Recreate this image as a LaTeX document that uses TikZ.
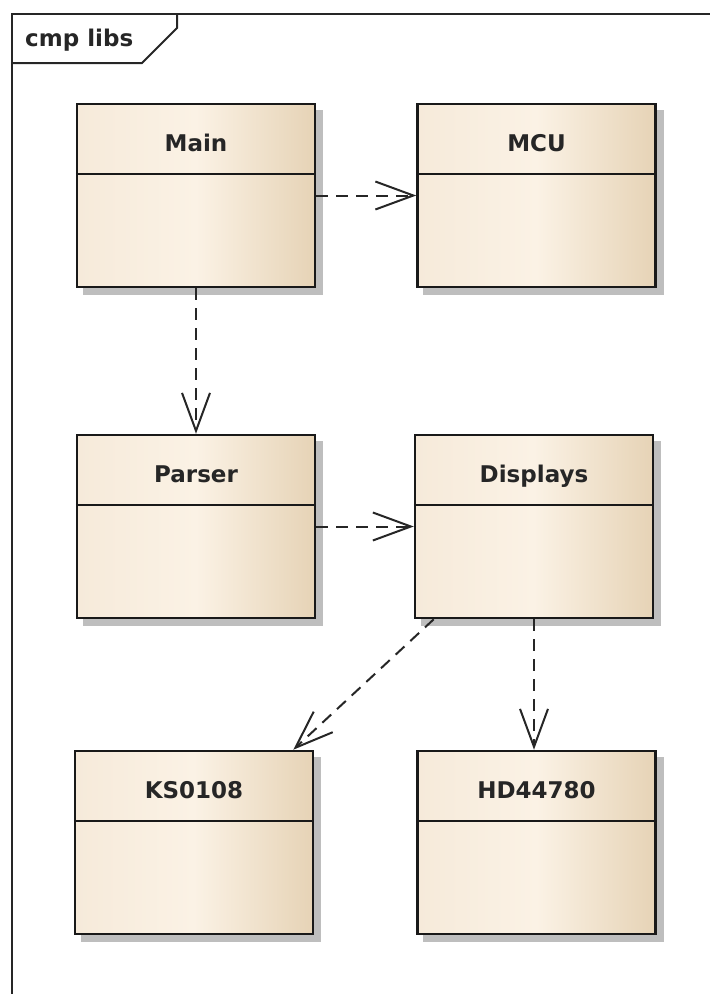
\documentclass[tikz,border=0pt]{standalone}
\usepackage{fontspec}
\setmainfont{DejaVu Sans}
\usetikzlibrary{arrows.meta,backgrounds}

\definecolor{clsleft}{HTML}{F6EADA}
\definecolor{clsmid}{HTML}{FBF2E5}
\definecolor{clsright}{HTML}{E6D3B6}
\definecolor{clsshadow}{HTML}{BEBEBE}

\tikzset{
  cls/.style={draw=black!90, line width=2.5pt, minimum width=238pt, minimum height=183pt,
    inner sep=0pt, left color=clsleft, right color=clsright, middle color=clsmid},
  clsname/.style={anchor=base, inner sep=0pt, text=black!85,
    font=\fontsize{23}{28}\selectfont\bfseries},
  dep/.style={draw=black!85, line width=2pt, dash pattern=on 12pt off 8pt,
    -{Straight Barb[length=38pt, width=28pt, line width=2pt]}},
}

\begin{document}
\begin{tikzpicture}[x=1pt, y=-1pt]
  \useasboundingbox (0,0) rectangle (710,994);
  \clip (0,0) rectangle (710,994);

  % frame
  \draw[line width=2pt, black!85] (12,994) -- (12,14) -- (710,14);
  \draw[line width=2pt, black!85] (12,63) -- (142,63) -- (177,28) -- (177,14);
  \node[anchor=base west, inner sep=0pt, text=black!85,
    font=\fontsize{23}{28}\selectfont\bfseries] (frame-name) at (25,46) {cmp libs};

  % classes
  \foreach \n/\x/\y/\t in {main/196/195.5/Main, mcu/536.5/195.5/MCU,
      parser/196/526.5/Parser, displays/534/526.5/Displays,
      ks/194/842.5/KS0108, hd/536.5/842.5/HD44780} {
    \node[cls] (\n) at (\x,\y) {};
    \node[clsname] (\n-name) at ([yshift=-49pt]\n.north) {\t};
    \draw[line width=2.5pt, black!90] ([yshift=-71pt]\n.north west) -- ([yshift=-71pt]\n.north east);
  }
  \begin{scope}[on background layer]
    \foreach \n in {main,mcu,parser,displays,ks,hd}
      \fill[clsshadow] ([shift={(7pt,-7pt)}]\n.south west) rectangle ([shift={(7pt,-7pt)}]\n.north east);
  \end{scope}

  % dependencies
  \draw[dep] (main.east) -- (mcu.west);
  \draw[dep] (main.south) -- (parser.north);
  \draw[dep] (parser.east) -- (displays.west);
  \draw[dep] ([xshift=20pt]displays.south west) -- ([xshift=-21pt]ks.north east);
  \draw[dep] (displays.south) -- (displays.south |- hd.north);
\end{tikzpicture}
\end{document}
